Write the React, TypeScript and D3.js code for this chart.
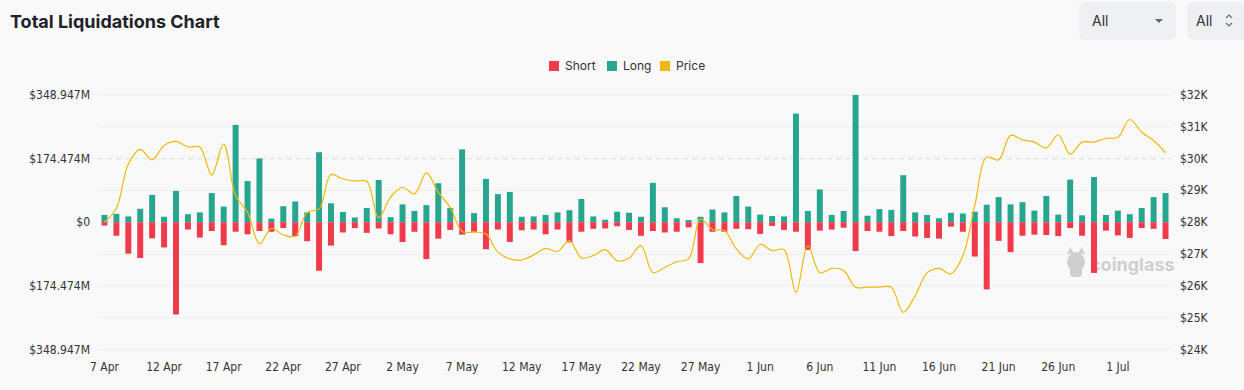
import React from 'react';
import * as d3 from 'd3';

// daily liquidations in $M, 7 Apr -> 5 Jul
const longs = [
  20, 23, 16, 37, 75, 15, 86, 22, 27, 80, 43, 267, 113, 175, 10, 44, 57, 27, 192, 52, 28, 13, 39, 116,
  14, 49, 31, 47, 107, 39, 200, 25, 119, 77, 83, 15, 16, 20, 27, 33, 64, 16, 7, 29, 26, 15, 108,
  41, 11, 6, 15, 35, 27, 72, 43, 21, 17, 16, 298, 31, 90, 20, 31, 349, 18, 36, 34, 129, 27, 20, 11,
  26, 24, 29, 48, 69, 49, 55, 32, 72, 21, 117, 19, 124, 20, 32, 22, 39, 69, 80,
];
const shorts = [
  9, 37, 86, 98, 44, 69, 253, 20, 42, 24, 63, 26, 33, 24, 26, 16, 38, 52, 133, 64, 28, 16, 29, 17,
  33, 54, 26, 101, 45, 21, 34, 26, 74, 20, 54, 22, 20, 33, 20, 55, 26, 18, 17, 11, 21, 37, 24,
  28, 26, 14, 112, 26, 26, 18, 19, 32, 10, 21, 26, 76, 23, 20, 15, 79, 24, 26, 38, 24, 39, 43, 45,
  12, 26, 94, 184, 51, 82, 37, 34, 35, 38, 16, 37, 139, 23, 36, 43, 16, 18, 46,
];
// BTC price in $K
const prices = [
  28.0, 28.44, 29.83, 30.29, 29.96, 30.41, 30.54, 30.37, 30.36, 29.49, 30.46, 28.84, 28.31, 27.32, 27.81, 27.6, 27.56, 28.31, 28.42, 29.5, 29.36, 29.3, 29.28, 28.14,
  28.79, 29.1, 28.89, 29.55, 28.94, 28.47, 27.71, 27.69, 27.63, 27.06, 26.85, 26.82, 26.97, 27.18, 27.08, 27.42, 26.88, 26.95, 27.14, 26.79, 26.87, 27.27, 26.42,
  26.58, 26.76, 26.85, 28.1, 27.77, 27.74, 27.16, 26.85, 27.3, 27.11, 27.14, 25.8, 27.27, 26.41, 26.55, 26.48, 25.96, 25.96, 25.96, 25.96, 25.17, 25.69, 26.41, 26.55,
  26.38, 26.95, 28.52, 30.05, 29.96, 30.73, 30.59, 30.52, 30.34, 30.75, 30.14, 30.52, 30.52, 30.64, 30.67, 31.23, 30.83, 30.57, 30.18,
];
const dates = d3.timeDay.range(new Date(2023, 3, 7), new Date(2023, 6, 6));
const leftTicks = [348.947, 174.474, 0, -174.474, -348.947];
const rightTicks = [32, 31, 30, 29, 28, 27, 26, 25, 24];

const RED = '#ef3a4c';
const GREEN = '#27a58e';
const GOLD = '#f0b90b';
const axisFont = '"DejaVu Sans Condensed", "Liberation Sans Narrow", sans-serif';

const fmtDate = d3.timeFormat('%-d %b');
const fmtLeft = (v: number) => (v === 0 ? '$0' : `$${Math.abs(v).toFixed(3)}M`);

const App = () => {
  const width = 1244;
  const height = 390;
  const top = 95;
  const bottom = 349.5;

  const x = d3.scaleBand<number>()
    .domain(d3.range(dates.length))
    .range([98.5, 1171.5])
    .paddingInner(0.5)
    .paddingOuter(0.25);
  const cx = (i: number) => x(i)! + x.bandwidth() / 2;

  const y = d3.scaleLinear().domain([-348.947, 348.947]).range([bottom, top]);
  const yPrice = d3.scaleLinear().domain([24, 32]).range([bottom, top]);

  const line = d3.line<number>()
    .x((_, i) => cx(i))
    .y(d => yPrice(d))
    .curve(d3.curveCatmullRom.alpha(0.5));

  const xTicks = d3.range(0, dates.length, 5);

  const legend = [
    { label: 'Short', color: RED, x: 549 },
    { label: 'Long', color: GREEN, x: 607 },
    { label: 'Price', color: GOLD, x: 660 },
  ];

  return (
    <svg width={width} height={height} style={{ position: 'absolute', left: 0, top: 0 }}>
      <rect width={width} height={height} fill="#f9f9fa" />
      <text x={10} y={28} fontFamily="Inter, sans-serif" fontWeight={700} fontSize={18} fill="#1f2229">
        Total Liquidations Chart
      </text>

      {/* selectors */}
      <rect x={1079} y={2} width={97} height={38} rx={6} fill="#eef0f3" />
      <text x={1092} y={26} fontFamily="Inter, sans-serif" fontSize={14} fill="#333">All</text>
      <path d="M1155,19 L1163,19 L1159,23 Z" fill="#666" />
      <rect x={1187} y={2} width={70} height={38} rx={6} fill="#eef0f3" />
      <text x={1196} y={26} fontFamily="Inter, sans-serif" fontSize={14} fill="#333">All</text>
      <path d="M1226,18 L1229,15 L1232,18 M1226,23 L1229,26 L1232,23" fill="none" stroke="#666" strokeWidth={1.1} />

      {/* legend */}
      {legend.map(l => (
        <g key={l.label}>
          <rect x={l.x} y={61} width={10} height={10} fill={l.color} />
          <text x={l.x + 16} y={70} fontFamily="Inter, sans-serif" fontSize={12} fill="#333">{l.label}</text>
        </g>
      ))}

      {/* grid */}
      {rightTicks.map(t => (
        <line
          key={t}
          x1={98}
          x2={1172}
          y1={yPrice(t)}
          y2={yPrice(t)}
          stroke={t === 30 ? '#dcdde0' : '#ebecee'}
          strokeDasharray={t === 30 ? '5,4' : undefined}
        />
      ))}

      {/* watermark */}
      <g fill="#cfcfcf">
        <ellipse cx={1076} cy={262} rx={9} ry={10} />
        <path d="M1067,254 L1070,247 L1074,253 Z M1085,254 L1082,247 L1078,253 Z" />
        <rect x={1070} y={268} width={12} height={9} rx={3} />
      </g>
      <text x={1090} y={271} fontFamily="Inter, sans-serif" fontWeight={700} fontSize={18} fill="#cfcfcf">
        coinglass
      </text>

      {/* bars */}
      {longs.map((v, i) => (
        <rect key={`l${i}`} x={x(i)} y={y(v)} width={x.bandwidth()} height={y(0) - y(v)} fill={GREEN} />
      ))}
      {shorts.map((v, i) => (
        <rect key={`s${i}`} x={x(i)} y={y(0)} width={x.bandwidth()} height={y(-v) - y(0)} fill={RED} />
      ))}

      <path d={line(prices) ?? ''} fill="none" stroke={GOLD} strokeWidth={1.2} />

      {/* axes */}
      {leftTicks.map(t => (
        <text key={t} x={90} y={y(t) + 4} textAnchor="end" fontFamily={axisFont} fontSize={12} fill="#333">
          {fmtLeft(t)}
        </text>
      ))}
      {rightTicks.map(t => (
        <text key={t} x={1180} y={yPrice(t) + 4} fontFamily={axisFont} fontSize={12} fill="#333">
          {`$${t}K`}
        </text>
      ))}
      {xTicks.map(i => (
        <text key={i} x={cx(i)} y={371} textAnchor="middle" fontFamily={axisFont} fontSize={12} fill="#333">
          {fmtDate(dates[i])}
        </text>
      ))}
    </svg>
  );
};

export default App;
